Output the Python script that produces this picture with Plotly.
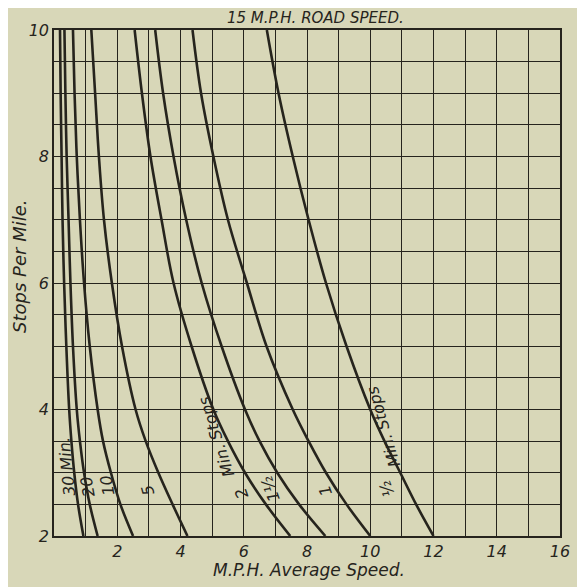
import plotly.graph_objects as go

# Stops per mile (y) at which the curves were read
stops = [2, 2.5, 3, 3.5, 4, 5, 6, 7, 8, 9, 10]

# Average speed (M.P.H.), by stop length (minutes)
speed_30 = [0.93, 0.76, 0.64, 0.55, 0.48, 0.39, 0.32, 0.27, 0.24, 0.21, 0.19]
speed_20 = [1.38, 1.13, 0.95, 0.82, 0.72, 0.60, 0.52, 0.46, 0.40, 0.36, 0.33]
speed_10 = [2.50, 2.10, 1.80, 1.55, 1.38, 1.13, 0.95, 0.82, 0.72, 0.65, 0.60]
speed_5 = [4.22, 3.75, 3.30, 2.90, 2.58, 2.15, 1.83, 1.58, 1.42, 1.30, 1.18]
speed_2 = [7.47, 6.70, 6.04, 5.50, 5.04, 4.35, 3.78, 3.40, 3.05, 2.78, 2.55]
speed_1h = [8.58, 7.75, 7.06, 6.50, 6.04, 5.30, 4.67, 4.18, 3.78, 3.45, 3.20]
speed_1 = [10.0, 9.25, 8.60, 8.05, 7.55, 6.72, 6.10, 5.50, 5.04, 4.65, 4.38]
speed_h = [12.0, 11.45, 10.95, 10.45, 10.0, 9.25, 8.60, 8.05, 7.55, 7.10, 6.73]

curves = [speed_30, speed_20, speed_10, speed_5, speed_2, speed_1h, speed_1, speed_h]

x_ticks = [2, 4, 6, 8, 10, 12, 14, 16]
y_ticks = [2, 4, 6, 8, 10]

# curve labels: (text, x, y, angle)
labels = [
    ("30 Min.", 0.40, 3.10, -96),
    ("20", 1.06, 2.77, -100),
    ("10", 1.68, 2.80, -100),
    ("5", 2.97, 2.72, -105),
    ("Min. Stops", 5.13, 3.56, -108),
    ("2", 5.94, 2.67, -110),
    ("1½", 6.84, 2.75, -110),
    ("1", 8.58, 2.72, -110),
    ("½", 10.53, 2.75, -110),
    ("Min. Stops", 10.41, 3.72, -106),
]

BG = "#d8d7b8"
INK = "#26241d"
FONT = "DejaVu Sans"

fig = go.Figure()
for c in curves:
    fig.add_trace(go.Scatter(x=c, y=stops, mode="lines",
                             line=dict(color=INK, width=2.6, shape="spline"),
                             showlegend=False, hoverinfo="skip"))

for text, lx, ly, ang in labels:
    fig.add_annotation(x=lx, y=ly, xref="x", yref="y", text=f"<i>{text}</i>",
                       showarrow=False, textangle=ang,
                       font=dict(family=FONT, size=16, color=INK))

fig.add_annotation(x=0.516, y=1.0247, xref="paper", yref="paper",
                   xanchor="center", yanchor="middle",
                   text="<i>15 M.P.H. ROAD SPEED.</i>", showarrow=False,
                   font=dict(family=FONT, size=15, color=INK))
fig.add_annotation(x=0.504, y=-0.067, xref="paper", yref="paper",
                   xanchor="center", yanchor="middle",
                   text="<i>M.P.H. Average Speed.</i>", showarrow=False,
                   font=dict(family=FONT, size=17, color=INK))
fig.add_annotation(x=-0.067, y=0.532, xref="paper", yref="paper", textangle=-90,
                   xanchor="center", yanchor="middle",
                   text="<i>Stops Per Mile.</i>", showarrow=False,
                   font=dict(family=FONT, size=18, color=INK))

fig.update_layout(
    width=577, height=579,
    margin=dict(l=46, r=25, t=22, b=51),
    paper_bgcolor=BG, plot_bgcolor=BG,
    font=dict(family=FONT, color=INK),
    xaxis=dict(range=[0, 16], tickvals=x_ticks, ticktext=[f"<i>{v}</i>" for v in x_ticks],
               showgrid=True, gridcolor=INK, gridwidth=1.3,
               minor=dict(dtick=1, tick0=0, showgrid=True, gridcolor=INK, gridwidth=1.3),
               showline=True, linecolor=INK, linewidth=1.6, mirror=True,
               zeroline=False, ticks="", tickfont=dict(size=16, family=FONT, color=INK)),
    yaxis=dict(range=[2, 10], tickvals=y_ticks, ticktext=[f"<i>{v}</i>" for v in y_ticks],
               showgrid=True, gridcolor=INK, gridwidth=1.3,
               minor=dict(dtick=0.5, tick0=0, showgrid=True, gridcolor=INK, gridwidth=1.3),
               showline=True, linecolor=INK, linewidth=1.6, mirror=True,
               zeroline=False, ticks="", tickfont=dict(size=16, family=FONT, color=INK)),
)

fig.write_html("out.html")
